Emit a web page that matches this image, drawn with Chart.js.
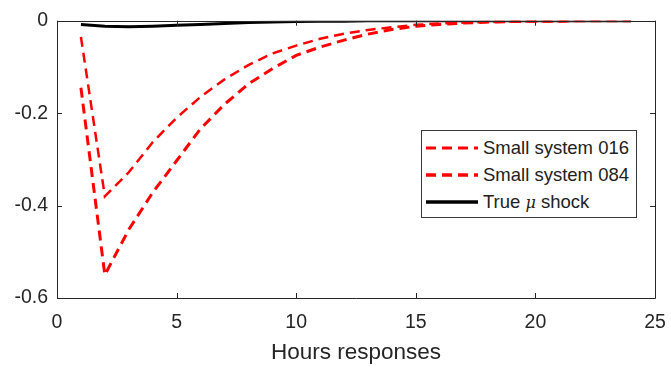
<!DOCTYPE html>
<html>
<head>
<meta charset="utf-8">
<script src="https://cdn.jsdelivr.net/npm/chart.js@4.4.1/dist/chart.umd.min.js"></script>
<style>
  body { margin: 0; background: #fff; }
  #wrap { position: relative; width: 671px; height: 368px; }
  #legend {
    position: absolute; left: 421px; top: 130px; width: 214px; height: 83px;
    border: 1px solid #3a3a3a; background: #fff;
    font-family: "Liberation Sans", Arial, sans-serif; font-size: 18.5px; color: #222;
    box-sizing: content-box; padding-top: 3px;
  }
  #legend .row { display: flex; align-items: center; height: 27px; }
  #legend svg { margin-left: 4px; margin-right: 5px; }
</style>
</head>
<body>
<div id="wrap">
  <canvas id="irf" width="671" height="368"></canvas>
  <div id="legend"></div>
</div>
<script>
// data
const hours = [1, 2, 3, 4, 5, 6, 7, 8, 9, 10, 11, 12, 13, 14, 15, 16, 17, 18, 19, 20, 21, 22, 23, 24];
const sys016 = [-0.035, -0.38, -0.328, -0.263, -0.21, -0.165, -0.127, -0.096, -0.071, -0.054, -0.039, -0.028, -0.020, -0.014, -0.009, -0.006, -0.004, -0.003, -0.002, -0.001, -0.001, 0, 0, 0];
const sys084 = [-0.145, -0.55, -0.452, -0.372, -0.303, -0.234, -0.181, -0.137, -0.104, -0.075, -0.057, -0.042, -0.029, -0.019, -0.012, -0.008, -0.005, -0.003, -0.002, -0.001, -0.001, 0, 0, 0];
const trueMu = [-0.008, -0.012, -0.013, -0.012, -0.010, -0.008, -0.006, -0.004, -0.003, -0.002, -0.001, -0.001, 0, 0, 0, 0, 0, 0, 0, 0, 0, 0, 0, 0];
const xTicks = [0, 5, 10, 15, 20, 25];
const yTicks = [-0.6, -0.4, -0.2, 0];

const FONT = '"Liberation Sans", Arial, sans-serif';
const AXIS = '#262626';

const toPts = vals => hours.map((h, i) => ({ x: h, y: vals[i] }));

// box + inward ticks, drawn on top like matlab
const frame = {
    id: 'frame',
    afterDatasetsDraw(chart) {
        const { ctx, chartArea: a, scales: { x, y } } = chart;
        const len = 5;
        ctx.save();
        ctx.strokeStyle = AXIS;
        ctx.lineWidth = 1;
        ctx.beginPath();
        ctx.rect(Math.round(a.left) + 0.5, Math.round(a.top) + 0.5, Math.round(a.right - a.left), Math.round(a.bottom - a.top));
        xTicks.forEach(t => {
            const px = Math.round(x.getPixelForValue(t)) + 0.5;
            ctx.moveTo(px, a.bottom); ctx.lineTo(px, a.bottom - len);
            ctx.moveTo(px, a.top); ctx.lineTo(px, a.top + len);
        });
        yTicks.forEach(t => {
            const py = Math.round(y.getPixelForValue(t)) + 0.5;
            ctx.moveTo(a.left, py); ctx.lineTo(a.left + len, py);
            ctx.moveTo(a.right, py); ctx.lineTo(a.right - len, py);
        });
        ctx.stroke();
        ctx.restore();
    }
};

// legend as html, built from the datasets
const htmlLegend = {
    id: 'htmlLegend',
    afterUpdate(chart) {
        const box = document.getElementById('legend');
        box.innerHTML = '';
        chart.data.datasets.forEach(ds => {
            const row = document.createElement('div');
            row.className = 'row';
            const dash = ds.borderDash && ds.borderDash.length ? ds.borderDash.join(',') : 'none';
            row.innerHTML =
                '<svg width="52" height="8"><line x1="0" y1="4" x2="52" y2="4" stroke="' + ds.borderColor +
                '" stroke-width="' + (ds.borderWidth + 0.5) + '" stroke-dasharray="' + dash + '"/></svg>';
            const span = document.createElement('span');
            span.innerHTML = ds.label.replace('μ', '<i style="font-family:\'DejaVu Serif\',serif;font-size:16px">μ</i>');
            row.appendChild(span);
            box.appendChild(row);
        });
    }
};

new Chart(document.getElementById('irf'), {
    type: 'line',
    data: {
        datasets: [
            { label: 'Small system 016', data: toPts(sys016), borderColor: '#ff0000', borderWidth: 2.5, borderDash: [10, 6] },
            { label: 'Small system 084', data: toPts(sys084), borderColor: '#ff0000', borderWidth: 3, borderDash: [10, 6] },
            { label: 'True μ shock', data: toPts(trueMu), borderColor: '#000000', borderWidth: 3, borderDash: [] }
        ]
    },
    options: {
        responsive: false,
        animation: false,
        layout: { padding: { left: 0, top: 16, right: 16, bottom: 0 } },
        elements: { point: { radius: 0 }, line: { tension: 0, fill: false } },
        plugins: { legend: { display: false }, tooltip: { enabled: false } },
        scales: {
            x: {
                type: 'linear', min: 0, max: 25,
                afterBuildTicks: s => { s.ticks = xTicks.map(v => ({ value: v })); },
                afterFit: s => { s.height = 70; s.paddingLeft = 0; s.paddingRight = 0; },
                grid: { display: false, drawTicks: false },
                border: { display: false },
                ticks: { color: AXIS, padding: 13, font: { family: FONT, size: 19.5 }, maxRotation: 0 },
                title: { display: true, text: 'Hours responses', color: AXIS, padding: { top: 0, bottom: 2 }, font: { family: FONT, size: 22.5 } }
            },
            y: {
                min: -0.6, max: 0,
                afterBuildTicks: s => { s.ticks = yTicks.map(v => ({ value: v })); },
                afterFit: s => { s.width = 57; },
                grid: { display: false, drawTicks: false },
                border: { display: false },
                ticks: { color: AXIS, padding: 9, font: { family: FONT, size: 19.5 }, callback: v => String(+v.toFixed(1)) }
            }
        }
    },
    plugins: [frame, htmlLegend]
});
</script>
</body>
</html>
